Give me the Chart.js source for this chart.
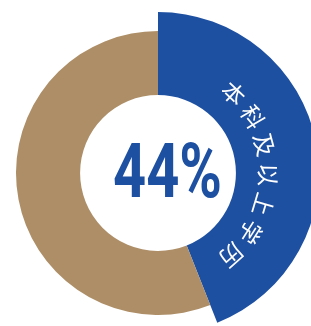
<!DOCTYPE html>
<html>
<head>
<meta charset="utf-8">
<script src="https://cdn.jsdelivr.net/npm/chart.js@4"></script>
<style>
  html, body { margin: 0; padding: 0; background: #fff; overflow: hidden; }
  body { width: 311px; height: 326px; position: relative; }
  #wrap { position: absolute; left: -7px; top: 8px; width: 330px; height: 330px; }
</style>
</head>
<body>
<div id="wrap"><canvas id="chart" width="330" height="330"></canvas></div>
<script>
const labels = ['本科及以上学历', '其他'];
const values = [44, 56];
const colors = ['#1e50a2', '#ad8e67'];

const BLUE = colors[0];

// the non-highlighted slice is drawn with a smaller outer radius
const shrinkPlugin = {
  id: 'shrinkRest',
  afterDatasetsUpdate(chart) {
    const arcs = chart.getDatasetMeta(0).data;
    arcs.forEach((arc, i) => {
      if (i > 0) arc.outerRadius = arcs[0].outerRadius * 142 / 161;
    });
  }
};

// text drawn on top: big percent in the hole, label along the blue arc
const textPlugin = {
  id: 'ringText',
  afterDraw(chart) {
    const ctx = chart.ctx;
    const arc = chart.getDatasetMeta(0).data[0];
    const rest = chart.getDatasetMeta(0).data[1];
    const cx = arc.x, cy = arc.y;

    // center percent
    const pct = values[0] + '%';
    ctx.save();
    ctx.font = 'bold 76px Roboto';
    ctx.fillStyle = BLUE;
    ctx.textBaseline = 'alphabetic';
    ctx.textAlign = 'center';
    const w = ctx.measureText(pct).width;
    ctx.translate(cx + 9.5, cy + 24);
    ctx.scale(109 / w, 1);
    ctx.fillText(pct, 0, 0);
    ctx.restore();

    // arc label
    const chars = Array.from(labels[0]);
    const r = (rest.innerRadius + rest.outerRadius) / 2;
    const first = 43.5, step = 15.8;
    ctx.save();
    ctx.font = '23px "Noto Sans CJK SC"';
    ctx.fillStyle = '#fff';
    ctx.textAlign = 'center';
    ctx.textBaseline = 'middle';
    chars.forEach((ch, i) => {
      const a = (first + i * step) * Math.PI / 180;
      ctx.save();
      ctx.translate(cx, cy);
      ctx.rotate(a);
      ctx.fillText(ch, 0, -r);
      ctx.restore();
    });
    ctx.restore();
  }
};

new Chart(document.getElementById('chart'), {
  type: 'doughnut',
  data: {
    labels: labels,
    datasets: [{
      data: values,
      backgroundColor: colors,
      borderWidth: 0,
    }]
  },
  options: {
    responsive: false,
    animation: false,
    cutout: '48.4%',
    layout: {padding: 4},
    plugins: {
      legend: {display: false},
      tooltip: {enabled: false},
    }
  },
  plugins: [shrinkPlugin, textPlugin]
});
</script>
</body>
</html>
